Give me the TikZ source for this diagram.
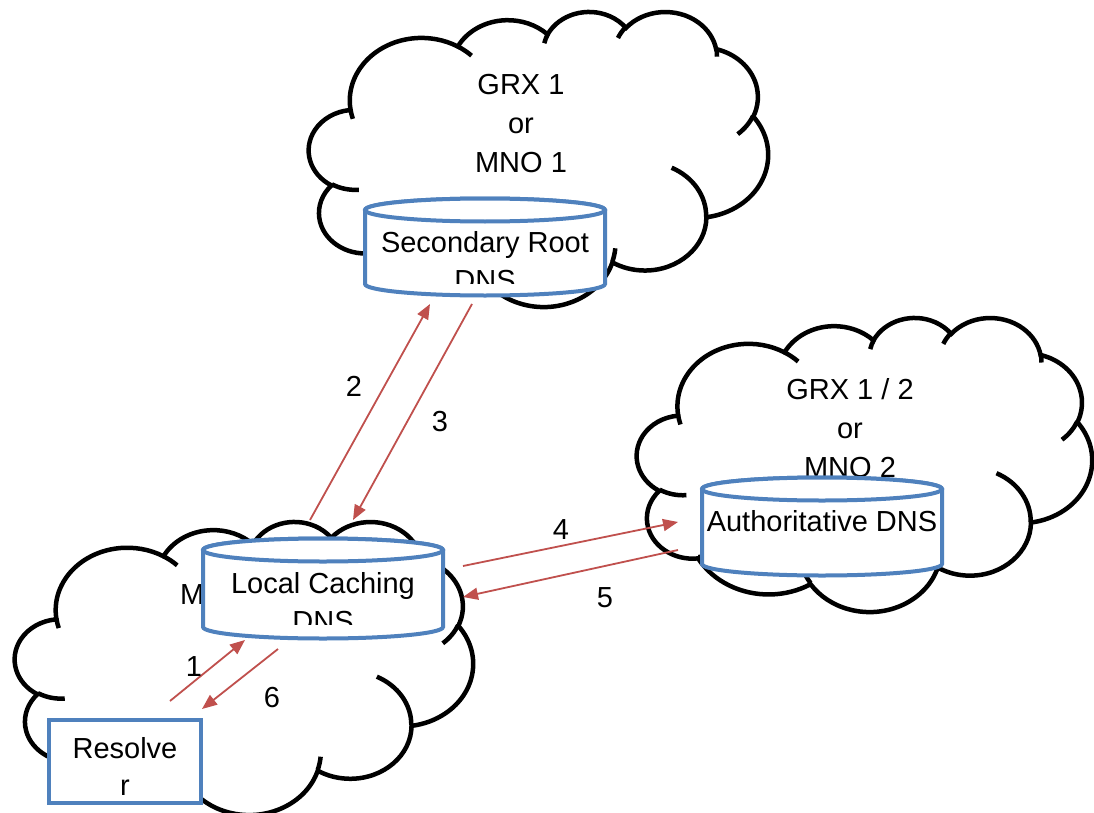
\documentclass[tikz,border=0pt]{standalone}
\usepackage{fontspec}
\setmainfont{Liberation Sans}
\usetikzlibrary{arrows.meta}
\definecolor{canblue}{RGB}{79,129,189}
\definecolor{arrred}{RGB}{192,80,77}
% DrawingML arcTo (visual angles) -> TikZ parametric arc
\newcommand\cldcalc[4]{%
  \pgfmathsetmacro\cldAtmp{atan2((#1)*sin(#3),(#2)*cos(#3))}%
  \pgfmathsetmacro\cldBtmp{atan2((#1)*sin((#3)+(#4)),(#2)*cos((#3)+(#4)))}%
  \pgfmathsetmacro\cldDtmp{mod(\cldBtmp-\cldAtmp+720,360)}%
  \global\let\cldA\cldAtmp\global\let\cldD\cldDtmp}
\newcommand\CA[4]{\pgfextra{\cldcalc{#1}{#2}{#3}{#4}} arc[start angle=\cldA, delta angle=\cldD, x radius=#1, y radius=#2]}
\tikzset{
  cloudline/.style={draw=black, line width=4.5pt, fill=white},
  cloudin/.style={draw=black, line width=4.5pt},
  can/.style={draw=canblue, line width=4pt, fill=white},
  txt/.style={font=\fontsize{29}{35}\selectfont, inner sep=0pt, text=black},
  arr/.style={draw=arrred, line width=1.8pt, -{Triangle[length=15pt,width=12pt]}},
}
\newcommand\cloudshape[5]{%
  \begin{scope}[shift={(#2,#3)}, xscale=#4/43.2, yscale=#5/43.2]
    \path[cloudline] (3.900,14.370)
      \CA{6.753}{9.190}{-190.4875}{123.7805}
      \CA{5.333}{7.267}{-144.1024}{89.9452}
      \CA{4.365}{5.945}{-145.8079}{99.7230}
      \CA{4.857}{6.595}{-130.9861}{117.2417}
      \CA{5.333}{7.273}{-78.7089}{109.0269}
      \CA{6.775}{9.220}{-46.2673}{130.2690}
      \CA{5.785}{7.867}{0.6250}{114.0333}
      \CA{6.752}{9.215}{22.4516}{115.1726}
      \CA{7.720}{10.543}{66.2426}{75.7110}
      \CA{4.360}{5.918}{-274.9421}{146.7356}
      \CA{4.345}{5.945}{-246.8285}{152.5189}
      -- cycle;
    \path[cloudin]
      (4.693,26.177) \CA{4.345}{5.945}{86.7420}{26.4295}
      (6.928,34.899) \CA{4.360}{5.918}{73.6105}{11.4475}
      (16.478,39.090) \CA{6.752}{9.215}{137.6242}{14.0811}
      (28.827,34.751) \CA{6.752}{9.215}{6.4533}{15.9984}
      (34.129,22.954) \CA{5.785}{7.867}{-70.2924}{70.9174}
      (41.798,15.354) \CA{5.333}{7.273}{30.3180}{27.7515}
      (38.324,5.426) \CA{4.857}{6.595}{-13.7443}{14.8589}
      (29.078,3.952) \CA{4.857}{6.595}{-149.1815}{18.1954}
      (22.141,4.720) \CA{4.365}{5.945}{-163.4943}{17.6864}
      (14.000,5.192) \CA{6.753}{9.190}{-66.7070}{12.3194}
      (4.127,15.789) \CA{6.753}{9.190}{157.6544}{11.8582};
    \coordinate (#1) at (21.6,21.6);
  \end{scope}}
% cylinder: name, cx, ytop, ybot, half width
\newcommand\canshape[5]{%
  \path[can] (#2-#5,#3) -- (#2-#5,#4) arc[start angle=180, end angle=0, x radius=#5, y radius=11.5]
     -- (#2+#5,#3) arc[start angle=0, end angle=-180, x radius=#5, y radius=11.5] -- cycle;
  \path[can] (#2,#3) ellipse[x radius=#5, y radius=11.5];
  \coordinate (#1) at (#2,{(#3+#4)/2});}
\begin{document}
\begin{tikzpicture}[x=1pt,y=-1pt]
\useasboundingbox (0,0) rectangle (1094,813);
\fill[white] (0,0) rectangle (1094,813);
% clouds
\cloudshape{cloudA}{309}{11}{459}{295}
\cloudshape{cloudB}{637}{317}{455}{294}
\cloudshape{cloudC}{15}{521}{458}{293}
% cloud texts
\node[txt, anchor=base] (ta1) at (521,95) {GRX 1};
\node[txt, anchor=base] (ta2) at (521,133.5) {or};
\node[txt, anchor=base] (ta3) at (521,172) {MNO 1};
\node[txt, anchor=base] (tb1) at (850,399) {GRX 1 / 2};
\node[txt, anchor=base] (tb2) at (850,438) {or};
\node[txt, anchor=base] (tb3) at (850,477) {MNO 2};
\node[txt, anchor=base west] (tc1) at (180,604) {M};
% cylinders
\canshape{srd}{485}{210}{284}{120}
\canshape{lcd}{323}{550}{627}{120}
\canshape{aud}{822}{489}{564}{120}
\node[txt, anchor=base] (srd1) at (485,252) {Secondary Root};
\begin{scope}
  \clip (367,225) rectangle (603,283);
  \node[txt, anchor=base] (srd2) at (485,290) {DNS};
\end{scope}
\node[txt, anchor=base] (lcd1) at (323,593) {Local Caching};
\begin{scope}
  \clip (205,565) rectangle (441,624);
  \node[txt, anchor=base] (lcd2) at (323,631.5) {DNS};
\end{scope}
\node[txt, anchor=base] (aud1) at (822,531) {Authoritative DNS};
% resolver
\path[can] (49,720) rectangle (201,803);
\node[txt, anchor=base] (res1) at (125,758) {Resolve};
\node[txt, anchor=base] (res2) at (125,795) {r};
% arrow end points
\coordinate (a1s) at (170,701); \coordinate (a1e) at (245,640);
\coordinate (a6s) at (278,649); \coordinate (a6e) at (202,709);
\coordinate (a2s) at (310,520); \coordinate (a2e) at (430,304);
\coordinate (a3s) at (472,304); \coordinate (a3e) at (353,520);
\coordinate (a4s) at (463,566); \coordinate (a4e) at (678,522);
\coordinate (a5s) at (678,550); \coordinate (a5e) at (463,597);
\draw[arr] (a1s) -- (a1e);
\draw[arr] (a6s) -- (a6e);
\draw[arr] (a2s) -- (a2e);
\draw[arr] (a3s) -- (a3e);
\draw[arr] (a4s) -- (a4e);
\draw[arr] (a5s) -- (a5e);
% labels
\node[txt] (l1) at (194,667) {1};
\node[txt] (l2) at (354,386) {2};
\node[txt] (l3) at (440,422) {3};
\node[txt] (l4) at (561,530) {4};
\node[txt] (l5) at (605,598) {5};
\node[txt] (l6) at (272,698) {6};
\end{tikzpicture}
\end{document}
